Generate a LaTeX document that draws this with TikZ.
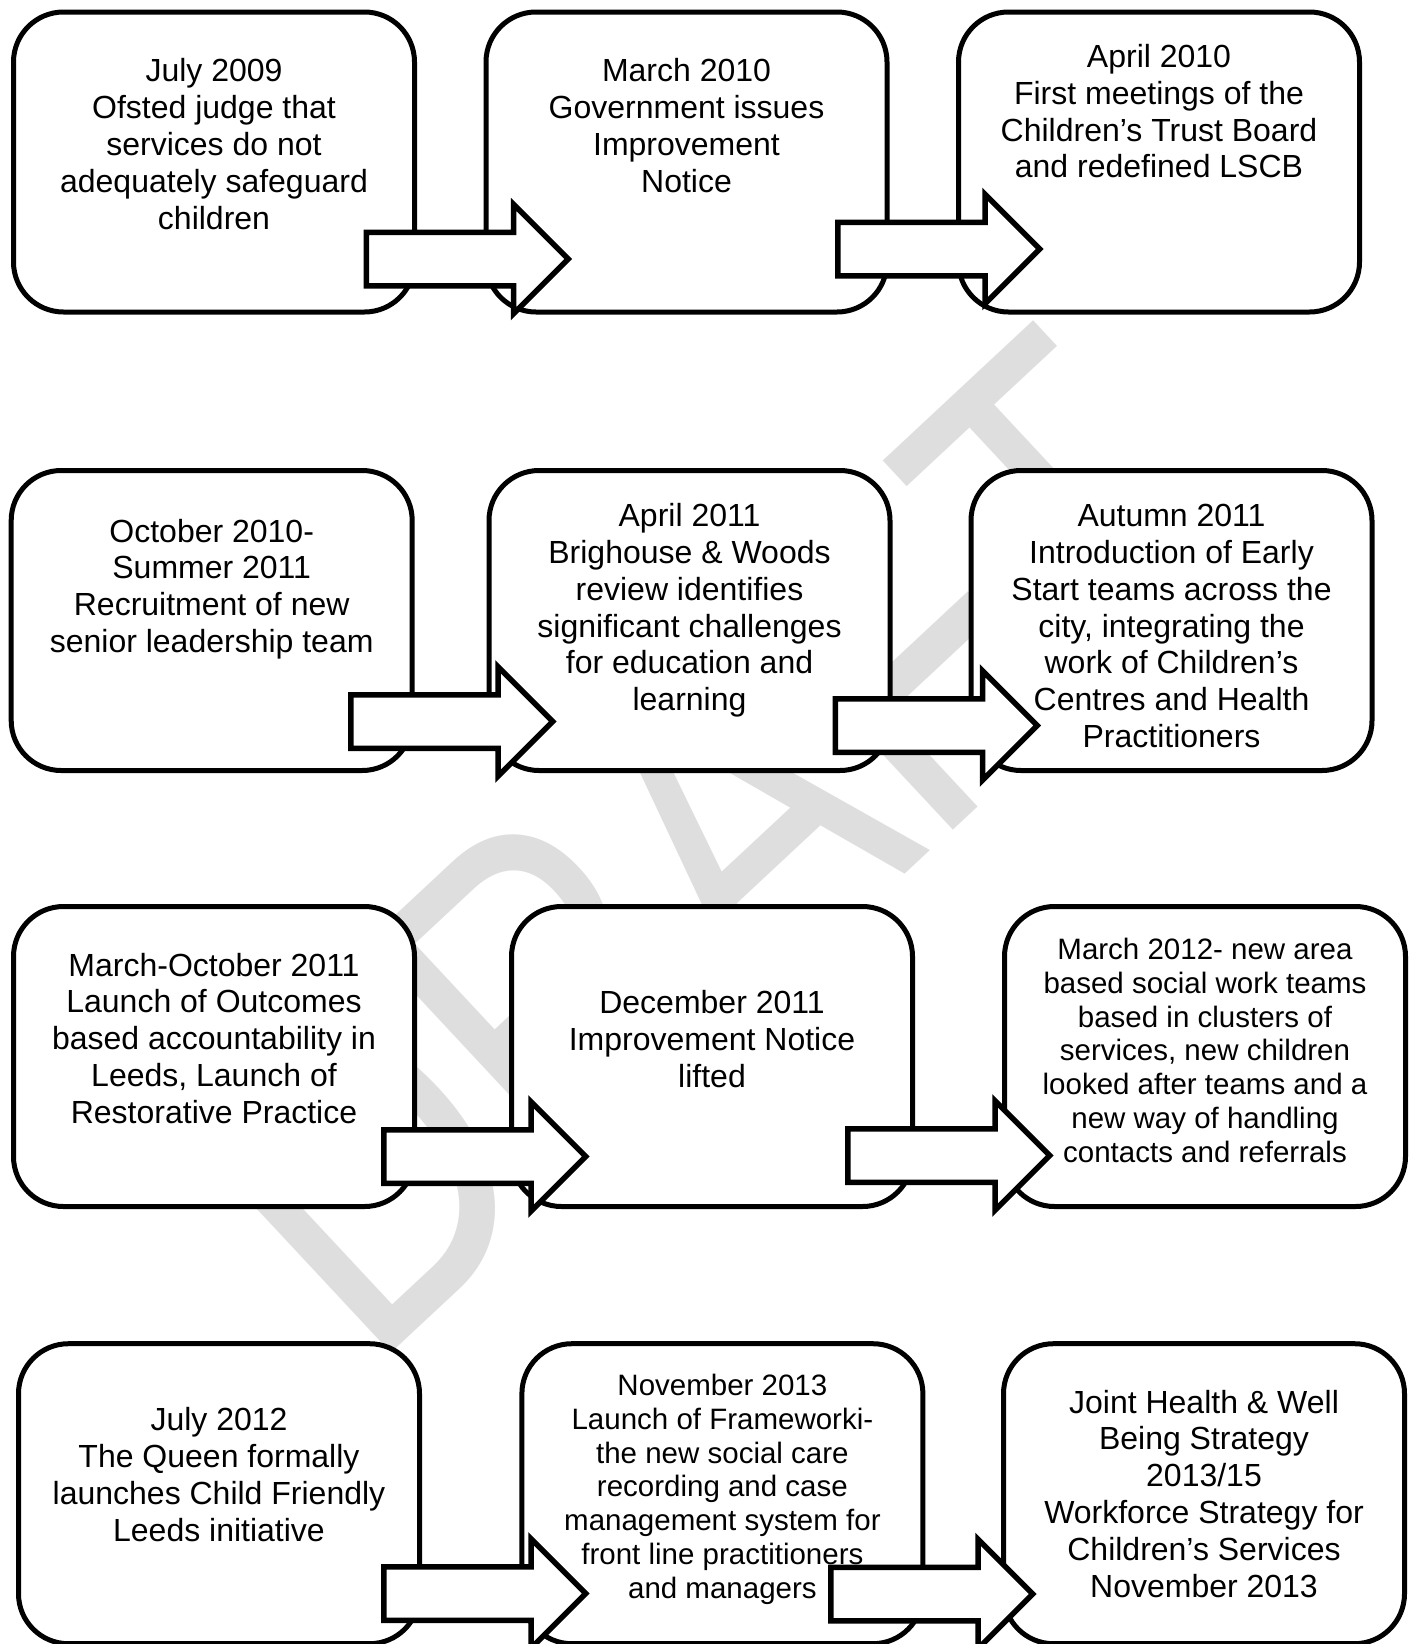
\documentclass[tikz,border=0pt]{standalone}
\usepackage{fontspec}
\setmainfont{Liberation Sans}
\usetikzlibrary{shapes.arrows}
\definecolor{wmgray}{RGB}{222,222,222}
\begin{document}
\begin{tikzpicture}[x=1pt,y=-1pt,
  evbox/.style={draw=black, line width=5pt, fill=white, rounded corners=50pt,
    minimum width=401pt, minimum height=300pt, inner sep=0pt},
  evtext/.style={align=center, inner sep=0pt, anchor=north,
    font=\fontsize{32}{36.9}\selectfont},
  evsmall/.style={evtext, font=\fontsize{29.5}{33.9}\selectfont},
  blockarrow/.style={single arrow, draw=black, fill=white, line width=5.5pt,
    minimum height=202pt, minimum width=104pt, single arrow head extend=28pt,
    inner xsep=0pt, inner ysep=24pt, anchor=tail, miter limit=10}
]
\useasboundingbox (0,0) rectangle (1415,1644);
\fill[white] (0,0) rectangle (1415,1644);
% watermark
\node[anchor=base west, rotate=43, inner sep=0pt, text=wmgray,
  font=\fontsize{461}{461}\selectfont] (wm) at (369.6,1374.1) {\scalebox{0.789}[1]{DRAFT}};

% boxes
\node[evbox] (b11) at (214,162) {};
\node[evbox] (b12) at (686.5,162) {};
\node[evbox] (b13) at (1159,162) {};
\node[evbox] (b21) at (211.7,620.5) {};
\node[evbox] (b22) at (689.5,620.5) {};
\node[evbox] (b23) at (1171.5,620.5) {};
\node[evbox] (b31) at (214,1056.5) {};
\node[evbox] (b32) at (712,1056.5) {};
\node[evbox] (b33) at (1205,1056.5) {};
\node[evbox] (b41) at (219,1493.7) {};
\node[evbox] (b42) at (722.4,1493.7) {};
\node[evbox] (b43) at (1204,1493.7) {};

% texts
\node[evtext] (t11) at (214,55.9) {\strut July 2009\\Ofsted judge that\\services do not\\adequately safeguard\\children};
\node[evtext] (t12) at (686.5,55.9) {\strut March 2010\\Government issues\\Improvement\\Notice};
\node[evtext] (t13) at (1159,41.2) {\strut April 2010\\First meetings of the\\Children’s Trust Board\\and redefined LSCB};
\node[evtext] (t21) at (211.7,516) {\strut October 2010-\\Summer 2011\\Recruitment of new\\senior leadership team};
\node[evtext] (t22) at (689.5,500.3) {\strut April 2011\\Brighouse \& Woods\\review identifies\\significant challenges\\for education and\\learning};
\node[evtext] (t23) at (1171.5,500.3) {\strut Autumn 2011\\Introduction of Early\\Start teams across the\\city, integrating the\\work of Children’s\\Centres and Health\\Practitioners};
\node[evtext] (t31) at (214,950) {\strut March-October 2011\\Launch of Outcomes\\based accountability in\\Leeds, Launch of\\Restorative Practice};
\node[evtext] (t32) at (712,987.7) {\strut December 2011\\Improvement Notice\\lifted};
\node[evsmall] (t33) at (1205,935.3) {\strut March 2012- new area\\based social work teams\\based in clusters of\\services, new children\\looked after teams and a\\new way of handling\\contacts and referrals};
\node[evtext] (t41) at (219,1404.8) {\strut July 2012\\The Queen formally\\launches Child Friendly\\Leeds initiative};
\node[evsmall] (t42) at (722.4,1371.3) {\strut November 2013\\Launch of Frameworki-\\the new social care\\recording and case\\management system for\\front line practitioners\\and managers};
\node[evtext] (t43) at (1204,1387) {\strut Joint Health \& Well\\Being Strategy\\2013/15\\Workforce Strategy for\\Children’s Services\\November 2013};

% block arrows
\node[blockarrow] (a1) at (363.5,259) {};
\node[blockarrow] (a2) at (835,249) {};
\node[blockarrow] (a3) at (348,721.5) {};
\node[blockarrow] (a4) at (832.5,725.5) {};
\node[blockarrow] (a5) at (381,1156.5) {};
\node[blockarrow] (a6) at (845,1155.5) {};
\node[blockarrow] (a7) at (381,1593.5) {};
\node[blockarrow] (a8) at (828,1594) {};
\end{tikzpicture}
\end{document}
